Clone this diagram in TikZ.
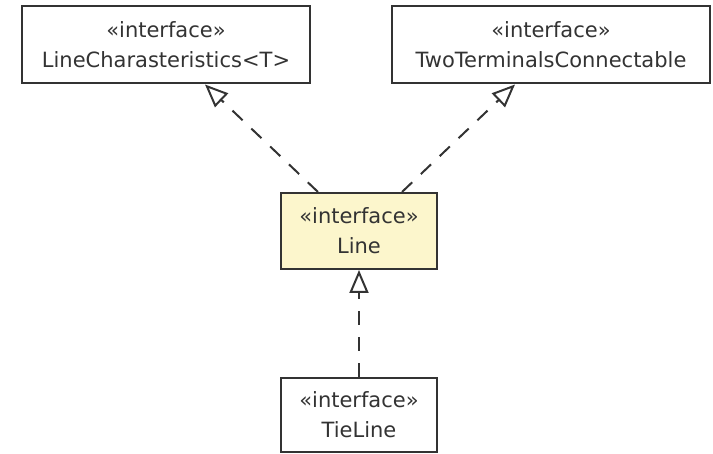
\documentclass[tikz,border=0pt]{standalone}
\usepackage{fontspec}
\setmainfont{DejaVu Sans}
\usetikzlibrary{arrows.meta,positioning}
\definecolor{umlyellow}{HTML}{FCF6CC}
\definecolor{umlline}{HTML}{333333}

\begin{document}
\begin{tikzpicture}[x=1pt, y=-1pt,
  every node/.style={font=\fontsize{21}{30}\selectfont, text=umlline},
  iface/.style={draw=umlline, line width=2pt, rectangle, align=center, inner sep=0pt},
  realize/.style={-{Triangle[open, length=23pt, width=19pt, line width=2pt]}, draw=umlline,
                  line width=2pt, dash pattern=on 14pt off 12pt}]
  \useasboundingbox (0,0) rectangle (713,454);

  % Parent interfaces
  \node[iface, minimum width=288pt, minimum height=77pt, fill=white] (charac) at (166,45) {
    «interface»\\
    LineCharasteristics<T>
  };

  \node[iface, minimum width=318pt, minimum height=77pt, fill=white] (connect) at (551,45) {
    «interface»\\
    TwoTerminalsConnectable
  };

  % Line interface
  \node[iface, minimum width=156pt, minimum height=76pt, fill=umlyellow] (line) at (359,231) {
    «interface»\\
    Line
  };

  % Sub interface
  \node[iface, minimum width=156pt, minimum height=74pt, fill=white] (tieline) at (359,415) {
    «interface»\\
    TieLine
  };

  % Realizations
  \draw[realize] ([xshift=-41pt]line.north) -- ([xshift=39pt]charac.south);
  \draw[realize] ([xshift=43pt]line.north) -- ([xshift=-36pt]connect.south);
  \draw[realize] (tieline.north) -- (line.south);
\end{tikzpicture}
\end{document}
